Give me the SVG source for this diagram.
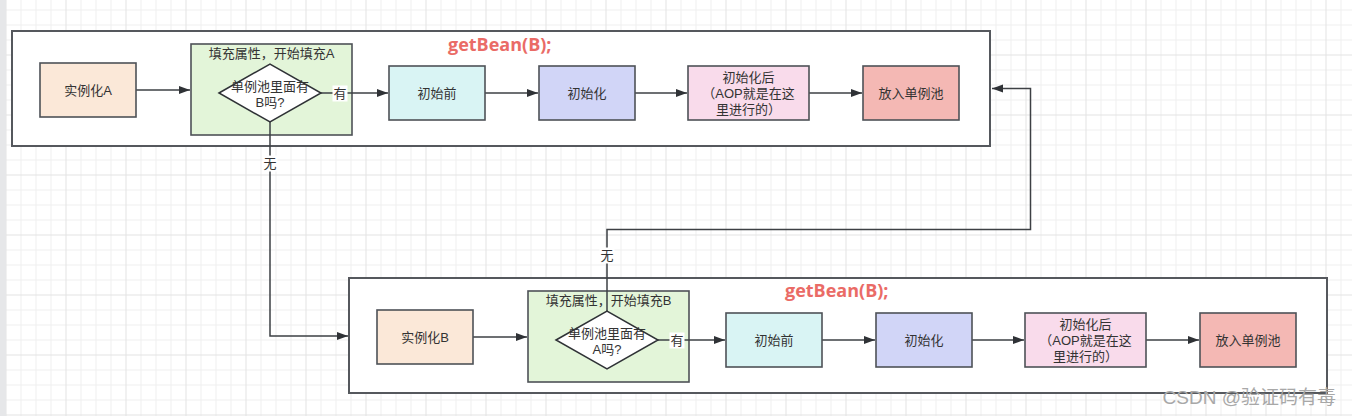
<svg xmlns="http://www.w3.org/2000/svg" width="1352" height="416" viewBox="0 0 1352 416">
<style>
.frame{fill:#ffffff;stroke:#55585d;stroke-width:2}
.box{stroke:#4e5257;stroke-width:1.6}
.dia{fill:#ffffff;stroke:#2f3236;stroke-width:1.5}
.t{font-family:"Liberation Sans","Noto Sans CJK SC",sans-serif;font-size:13px;fill:#333333;text-anchor:middle;dominant-baseline:central}
.title{font-family:"Open Sans","Liberation Sans",sans-serif;font-weight:bold;font-size:18px;fill:#ea6b66}
.edge{fill:none;stroke:#3d4044;stroke-width:1.5}
.lbl{fill:#ffffff}
</style>
<defs>
<pattern id="grid" patternUnits="userSpaceOnUse" x="5.5" y="54.5" width="60" height="60">
<path d="M15.5 0V60M30.5 0V60M45.5 0V60M0 15.5H60M0 30.5H60M0 45.5H60" stroke="#efefef" stroke-width="1" fill="none"/>
<path d="M0.5 0V60M0 0.5H60" stroke="#e3e3e3" stroke-width="1" fill="none"/>
</pattern>
<marker id="arr" markerUnits="userSpaceOnUse" markerWidth="12" markerHeight="9" refX="11" refY="4" orient="auto">
<path d="M0,0 L11,4 L0,8 z" fill="#2f3236"/>
</marker>
</defs>
<rect width="1352" height="416" fill="#ffffff"/>
<rect width="1352" height="416" fill="url(#grid)"/>
<rect x="0" y="0" width="6" height="416" fill="#e6e7e9"/>

<g id="getBeanA">
<rect class="frame" x="12" y="31" width="978" height="115"/>
<text class="title" x="448" y="51">getBean(B);</text>
</g>
<g id="getBeanB">
<rect class="frame" x="349" y="278" width="978" height="115"/>
<text class="title" x="785" y="297">getBean(B);</text>
</g>
<g id="fillA">
<rect class="box" x="191" y="44" width="161" height="91" fill="#e3f5d9"/>
<text class="t" x="271.5" y="53">填充属性，开始填充A</text>
</g>
<g id="fillB">
<rect class="box" x="528" y="291" width="161" height="91" fill="#e3f5d9"/>
<text class="t" x="608.5" y="300">填充属性，开始填充B</text>
</g>

<g id="connectors">
<path class="edge" d="M136 90H190" marker-end="url(#arr)"/>
<path class="edge" d="M321 93H388" marker-end="url(#arr)"/>
<path class="edge" d="M485 93H538" marker-end="url(#arr)"/>
<path class="edge" d="M635 93H687" marker-end="url(#arr)"/>
<path class="edge" d="M809 93H862" marker-end="url(#arr)"/>
<path class="edge" d="M270 122V336H348" marker-end="url(#arr)"/>
<path class="edge" d="M473 337H527" marker-end="url(#arr)"/>
<path class="edge" d="M658 340H725" marker-end="url(#arr)"/>
<path class="edge" d="M822 340H875" marker-end="url(#arr)"/>
<path class="edge" d="M972 340H1024" marker-end="url(#arr)"/>
<path class="edge" d="M1146 340H1199" marker-end="url(#arr)"/>
<path class="edge" d="M607 311V229.5H1030.5V88.5H992" marker-end="url(#arr)"/>
<rect class="lbl" x="332.5" y="85.5" width="15" height="16"/>
<text class="t" x="340" y="93.5">有</text>
<rect class="lbl" x="669.5" y="332.5" width="15" height="16"/>
<text class="t" x="677" y="340.5">有</text>
<rect class="lbl" x="262.5" y="155.5" width="15" height="16"/>
<text class="t" x="270" y="163.5">无</text>
<rect class="lbl" x="599.5" y="247.5" width="15" height="16"/>
<text class="t" x="607" y="255.5">无</text>
</g>

<g id="instA">
<rect class="box" x="40" y="63" width="96" height="54" fill="#fbe8d8"/>
<text class="t" x="88" y="90">实例化A</text>
</g>
<g id="checkA">
<polygon class="dia" points="219,93 270,64 321,93 270,122"/>
<text class="t" x="270" y="86">单例池里面有</text>
<text class="t" x="270" y="102">B吗?</text>
</g>
<g id="preA">
<rect class="box" x="389" y="66" width="96" height="54" fill="#d9f4f4"/>
<text class="t" x="437" y="93">初始前</text>
</g>
<g id="initA">
<rect class="box" x="539" y="66" width="96" height="54" fill="#d1d5f7"/>
<text class="t" x="587" y="93">初始化</text>
</g>
<g id="postA">
<rect class="box" x="688" y="66" width="121" height="54" fill="#f9dbeb"/>
<text class="t" x="748.5" y="77">初始化后</text>
<text class="t" x="748.5" y="93">（AOP就是在这</text>
<text class="t" x="748.5" y="109">里进行的）</text>
</g>
<g id="poolA">
<rect class="box" x="863" y="66" width="96" height="54" fill="#f4b8b4"/>
<text class="t" x="911" y="93">放入单例池</text>
</g>

<g id="instB">
<rect class="box" x="377" y="310" width="96" height="54" fill="#fbe8d8"/>
<text class="t" x="425" y="337">实例化B</text>
</g>
<g id="checkB">
<polygon class="dia" points="556,340 607,311 658,340 607,369"/>
<text class="t" x="607" y="333">单例池里面有</text>
<text class="t" x="607" y="349">A吗?</text>
</g>
<g id="preB">
<rect class="box" x="726" y="313" width="96" height="54" fill="#d9f4f4"/>
<text class="t" x="774" y="340">初始前</text>
</g>
<g id="initB">
<rect class="box" x="876" y="313" width="96" height="54" fill="#d1d5f7"/>
<text class="t" x="924" y="340">初始化</text>
</g>
<g id="postB">
<rect class="box" x="1025" y="313" width="121" height="54" fill="#f9dbeb"/>
<text class="t" x="1085.5" y="324">初始化后</text>
<text class="t" x="1085.5" y="340">（AOP就是在这</text>
<text class="t" x="1085.5" y="356">里进行的）</text>
</g>
<g id="poolB">
<rect class="box" x="1200" y="313" width="96" height="54" fill="#f4b8b4"/>
<text class="t" x="1248" y="340">放入单例池</text>
</g>

<text x="1336" y="404" font-family="Liberation Sans,'Noto Sans CJK SC',sans-serif" font-size="19" fill="#a8a8a8" text-anchor="end">CSDN @验证码有毒</text>
</svg>
